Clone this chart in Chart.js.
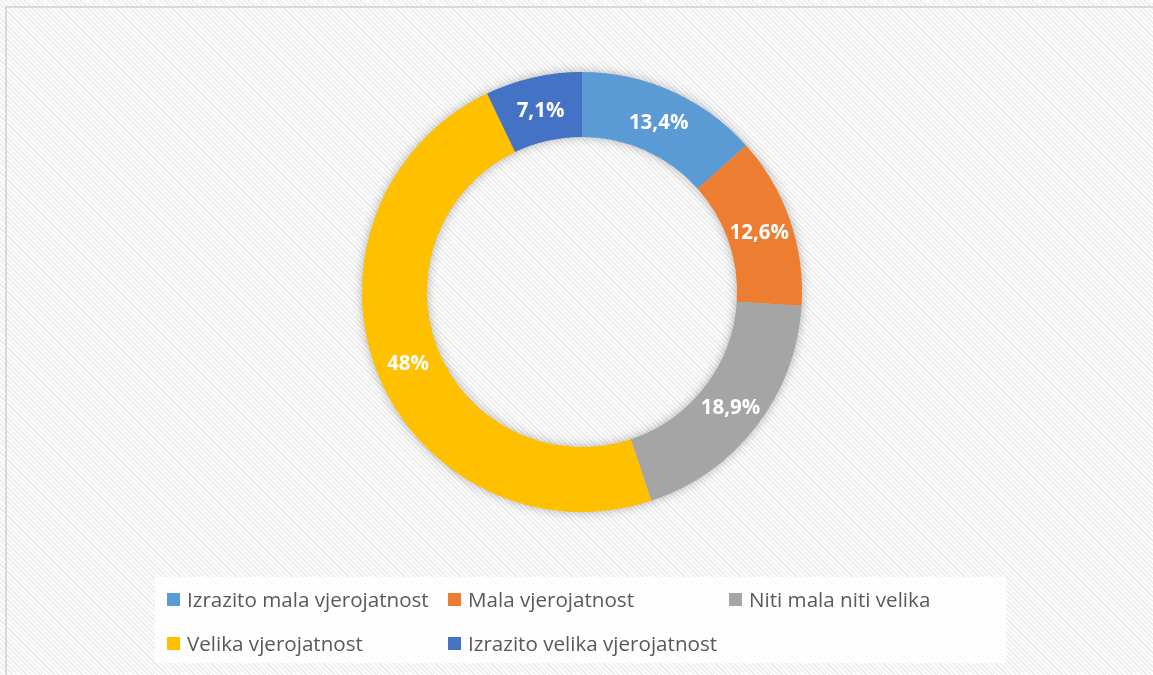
<!DOCTYPE html>
<html>
<head>
<meta charset="utf-8">
<script src="https://cdn.jsdelivr.net/npm/chart.js@4"></script>
<style>
  html, body { margin: 0; padding: 0; }
  body {
    width: 1153px; height: 675px; overflow: hidden; position: relative;
    background: repeating-linear-gradient(45deg, #ffffff 0px, #ffffff 1.7px, #eeeeee 1.7px, #eeeeee 3.3px);
  }
  #frame {
    position: absolute; left: 5px; top: 6px; width: 1170px; height: 690px;
    border: 2px solid #d9d9d9; box-sizing: border-box;
  }
  #wrap { position: absolute; left: 0; top: 0; width: 1153px; height: 675px; }
  #legend {
    position: absolute; left: 155px; top: 577px; width: 851px; height: 86px;
    background: rgba(255,255,255,0.82);
    font-family: "Open Sans", Lato, sans-serif; font-size: 20.6px; color: #595959;
  }
  .item { position: absolute; display: flex; align-items: center; white-space: nowrap; }
  .box { width: 13px; height: 13px; margin-right: 7px; }
</style>
</head>
<body>
<div id="frame"></div>
<div id="wrap"><canvas id="dona"></canvas></div>
<div id="legend"></div>
<script>
kategorije = ["Izrazito mala vjerojatnost", "Mala vjerojatnost", "Niti mala niti velika",
              "Velika vjerojatnost", "Izrazito velika vjerojatnost"]
postoci = [13.4, 12.6, 18.9, 48, 7.1]
boje = ["#5B9BD5", "#ED7D31", "#A5A5A5", "#FFC000", "#4472C4"]

function oznaka(v) {
	return String(v).replace(".", ",") + "%";
}

// sjena ispod prstena
var sjena = {
	id: "sjena",
	beforeDatasetsDraw: function(chart) {
		var luk = chart.getDatasetMeta(0).data[0];
		if (!luk) return;
		var p = luk.getProps(["x", "y", "innerRadius", "outerRadius"]);
		var ctx = chart.ctx;
		ctx.save();
		ctx.shadowColor = "rgba(0,0,0,0.35)";
		ctx.shadowBlur = 12;
		ctx.fillStyle = "#bbbbbb";
		ctx.beginPath();
		ctx.arc(p.x, p.y, p.outerRadius - 1, 0, Math.PI * 2);
		ctx.arc(p.x, p.y, p.innerRadius + 1, 0, Math.PI * 2, true);
		ctx.fill();
		ctx.restore();
	}
};

// postoci na segmentima
var natpisi = {
	id: "natpisi",
	afterDatasetsDraw: function(chart) {
		var ctx = chart.ctx;
		ctx.save();
		ctx.fillStyle = "#ffffff";
		ctx.font = "bold 20.5px 'Open Sans', Lato, sans-serif";
		ctx.textAlign = "center";
		ctx.textBaseline = "middle";
		chart.getDatasetMeta(0).data.forEach(function(luk, i) {
			var pos = luk.tooltipPosition();
			ctx.fillText(oznaka(chart.data.datasets[0].data[i]), pos.x, pos.y + 2);
		});
		ctx.restore();
	}
};

var graf = new Chart(document.getElementById("dona").getContext("2d"), {
	type: "doughnut",
	data: {
		labels: kategorije,
		datasets: [{ data: postoci, backgroundColor: boje, borderWidth: 0 }]
	},
	options: {
		responsive: true,
		maintainAspectRatio: false,
		animation: false,
		events: [],
		cutout: "70.5%",
		layout: { padding: { left: 11, right: 0, top: 72, bottom: 163 } },
		plugins: { legend: { display: false }, tooltip: { enabled: false } }
	},
	plugins: [sjena, natpisi]
});

// legenda
var leg = document.getElementById("legend");
kategorije.forEach(function(k, i) {
	var d = document.createElement("div");
	d.className = "item";
	d.style.left = (12 + (i % 3) * 281) + "px";
	d.style.top = (Math.floor(i / 3) * 44 + 8) + "px";
	d.innerHTML = '<span class="box" style="background:' + boje[i] + '"></span><span>' + k + '</span>';
	leg.appendChild(d);
});
</script>
</body>
</html>
